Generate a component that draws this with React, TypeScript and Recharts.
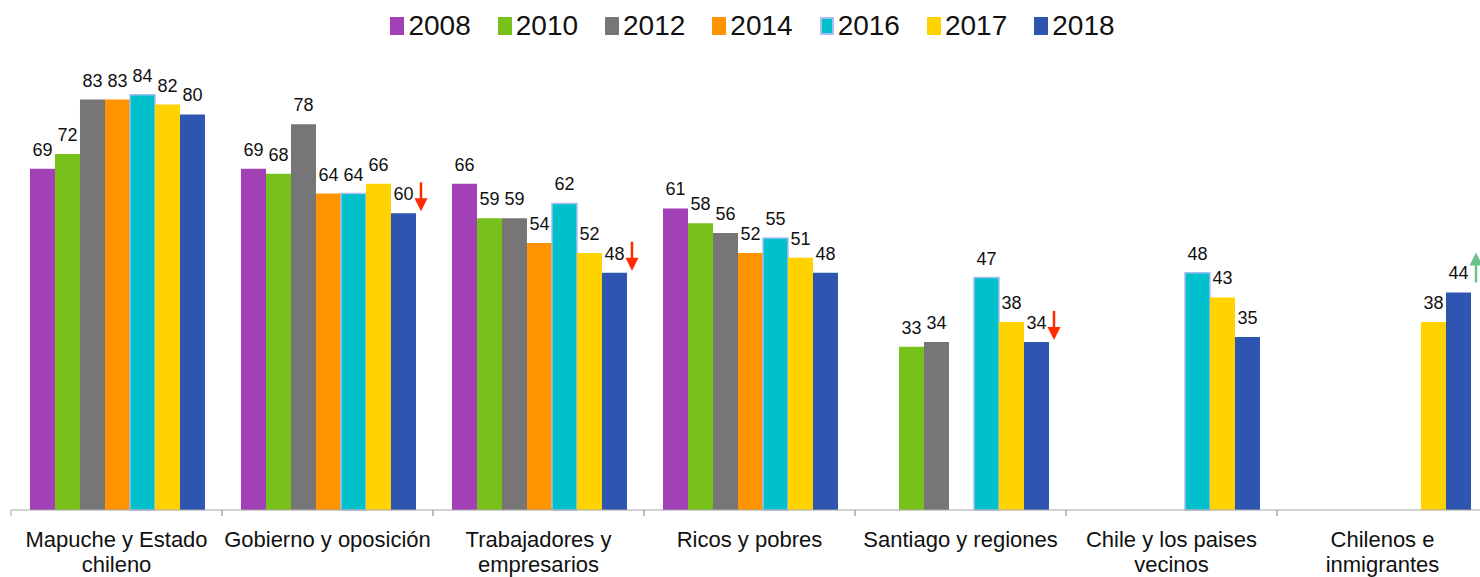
import React from "react";
import { BarChart, Bar, XAxis, YAxis, LabelList } from "recharts";

// categories (\n marks where the axis label wraps)
const categories = [
  "Mapuche y Estado\nchileno",
  "Gobierno y oposición",
  "Trabajadores y\nempresarios",
  "Ricos y pobres",
  "Santiago y regiones",
  "Chile y los paises\nvecinos",
  "Chilenos e\ninmigrantes",
];

const years = ["2008", "2010", "2012", "2014", "2016", "2017", "2018"];

const v2008 = [69, 69, 66, 61, null, null, null];
const v2010 = [72, 68, 59, 58, 33, null, null];
const v2012 = [83, 78, 59, 56, 34, null, null];
const v2014 = [83, 64, 54, 52, null, null, null];
const v2016 = [84, 64, 62, 55, 47, 48, null];
const v2017 = [82, 66, 52, 51, 38, 43, 38];
const v2018 = [80, 60, 48, 48, 34, 35, 44];

// change marker shown beside the 2018 bar
const trend2018 = [null, "down", "down", null, "down", null, "up"];

const seriesValues = [v2008, v2010, v2012, v2014, v2016, v2017, v2018];

const colors: Record<string, string> = {
  "2008": "#A241B5",
  "2010": "#78C11A",
  "2012": "#767676",
  "2014": "#FF9400",
  "2016": "#00C1CB",
  "2017": "#FFD300",
  "2018": "#2E55AF",
};

const FONT = '"Liberation Sans", Arial, sans-serif';

const data = categories.map((name, i) => {
  const row: Record<string, any> = { name, trend: trend2018[i] };
  years.forEach((y, k) => {
    row["y" + y] = seriesValues[k][i];
  });
  return row;
});

function ValueLabel(props: any) {
  const vb = props.viewBox || props;
  const { value } = props;
  if (value === null || value === undefined) return null;
  const cx = vb.x + vb.width / 2;
  return (
    <text
      x={cx}
      y={vb.y - 13}
      textAnchor="middle"
      fontFamily={FONT}
      fontSize={18}
      fill="#111"
    >
      {value}
    </text>
  );
}

function TrendArrow(props: any) {
  const vb = props.viewBox || props;
  const { value } = props;
  if (!value) return null;
  const ax = vb.x + vb.width + 5;
  if (value === "down") {
    const y0 = vb.y - 31;
    const y1 = vb.y - 2;
    return (
      <g>
        <line x1={ax} x2={ax} y1={y0} y2={y1 - 10} stroke="#FF2A00" strokeWidth={2.5} />
        <polygon points={`${ax - 6.5},${y1 - 13} ${ax + 6.5},${y1 - 13} ${ax},${y1}`} fill="#FF2A00" />
      </g>
    );
  }
  const y0 = vb.y - 10;
  const y1 = vb.y - 40;
  return (
    <g>
      <line x1={ax} x2={ax} y1={y0} y2={y1 + 10} stroke="#6CC28C" strokeWidth={2.5} />
      <polygon points={`${ax - 6.5},${y1 + 13} ${ax + 6.5},${y1 + 13} ${ax},${y1}`} fill="#6CC28C" />
    </g>
  );
}

function CategoryTick(props: any) {
  const { x, y, payload } = props;
  const half = payload && payload.offset ? payload.offset : 105.5;
  const lines = String(payload.value).split("\n");
  return (
    <g>
      <line x1={x - half} x2={x - half} y1={y - 6} y2={y} stroke="#A6A6A6" />
      <line x1={x + half} x2={x + half} y1={y - 6} y2={y} stroke="#A6A6A6" />
      {lines.map((l, i) => (
        <text
          key={i}
          x={x}
          y={y + 31 + i * 25}
          textAnchor="middle"
          fontFamily={FONT}
          fontSize={22}
          fill="#111"
        >
          {l}
        </text>
      ))}
    </g>
  );
}

function LegendRow() {
  return (
    <div
      style={{
        position: "absolute",
        top: 8,
        left: 14,
        width: 1477,
        display: "flex",
        justifyContent: "center",
        fontFamily: FONT,
        fontSize: 28,
        color: "#111",
        lineHeight: "36px",
      }}
    >
      {years.map((y, i) => (
        <div
          key={y}
          style={{
            display: "flex",
            alignItems: "center",
            marginRight: i === years.length - 1 ? 0 : 27,
          }}
        >
          <span
            style={{
              display: "inline-block",
              width: 14,
              height: 18,
              background: colors[y],
              boxSizing: "border-box",
              border: y === "2016" ? "2px solid #A7BEF0" : "none",
              marginRight: 4,
            }}
          />
          <span>{y}</span>
        </div>
      ))}
    </div>
  );
}

export default function App() {
  return (
    <div
      style={{
        position: "absolute",
        top: 0,
        left: 0,
        width: 1480,
        height: 577,
        overflow: "hidden",
        background: "#fff",
      }}
    >
      <LegendRow />
      <BarChart
        width={1490}
        height={577}
        data={data}
        margin={{ top: 65, right: 2, bottom: 0, left: 11 }}
        barCategoryGap="9%"
        barGap={0}
      >
        <YAxis hide domain={[0, 90]} />
        <XAxis
          dataKey="name"
          height={67}
          interval={0}
          tickLine={false}
          tickSize={6}
          tickMargin={0}
          axisLine={{ stroke: "#A6A6A6" }}
          tick={<CategoryTick />}
        />
        {years.map((y) => (
          <Bar
            key={y}
            dataKey={"y" + y}
            fill={colors[y]}
            stroke={y === "2016" ? "#A7BEF0" : undefined}
            strokeWidth={y === "2016" ? 1.5 : 0}
            isAnimationActive={false}
          >
            <LabelList dataKey={"y" + y} content={<ValueLabel />} />
            {y === "2018" && <LabelList dataKey="trend" content={<TrendArrow />} />}
          </Bar>
        ))}
      </BarChart>
    </div>
  );
}
